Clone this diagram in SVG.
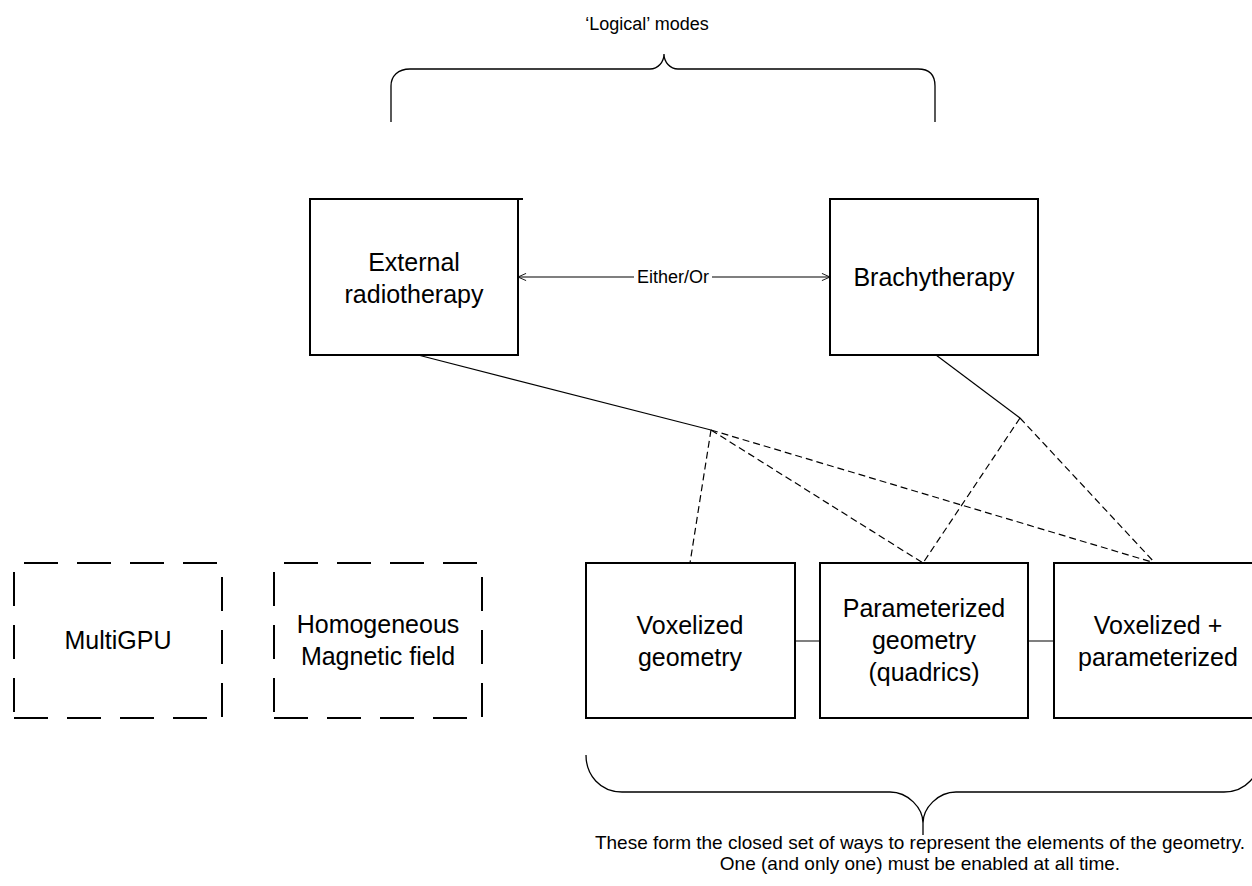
<svg xmlns="http://www.w3.org/2000/svg" width="1252" height="886" viewBox="0 0 1252 886">
<defs>
<style>
.box{fill:#fff;stroke:#000;stroke-width:2}
.dbox{fill:none;stroke:#000;stroke-width:2;stroke-dasharray:34 19}
.t{font-family:"Liberation Sans",Arial,sans-serif;font-size:25px;fill:#000;text-anchor:middle}
.s{font-family:"Liberation Sans",Arial,sans-serif;font-size:18px;fill:#000;text-anchor:middle}
.b{font-family:"Liberation Sans",Arial,sans-serif;font-size:19px;fill:#000;text-anchor:middle}
.c{fill:none;stroke:#000;stroke-width:1.2}
.d{fill:none;stroke:#000;stroke-width:1.2;stroke-dasharray:7 4}
.brace{fill:none;stroke:#000;stroke-width:1.3}
</style>
<marker id="open" viewBox="0 0 10 10" refX="10" refY="5" markerWidth="9" markerHeight="9" markerUnits="userSpaceOnUse" orient="auto-start-reverse">
<path d="M1,1 L10,5 L1,9" fill="none" stroke="#000" stroke-width="1"/>
</marker>
</defs>
<rect width="1252" height="886" fill="#fff"/>

<g id="logical-brace">
<path class="brace" d="M391,122 L391,86 C391,76 398,69 410,69 L650,69 C658,69 664,62 664,54 C664,62 670,69 678,69 L918,69 C930,69 935,76 935,86 L935,122"/>
<text class="s" x="647" y="30">‘Logical’ modes</text>
</g>

<g id="connectors">
<line class="c" x1="518" y1="277" x2="830" y2="277" stroke="#444" marker-start="url(#open)" marker-end="url(#open)"/>
<rect x="634" y="265" width="78" height="22" fill="#fff"/>
<text class="s" x="673" y="283">Either/Or</text>
<line class="c" x1="418" y1="355" x2="711" y2="430"/>
<line class="c" x1="936" y1="355" x2="1020" y2="418"/>
<line class="d" x1="711" y1="430" x2="690" y2="563"/>
<line class="d" x1="711" y1="430" x2="923" y2="563"/>
<line class="d" x1="711" y1="430" x2="1155" y2="563"/>
<line class="d" x1="1020" y1="418" x2="923" y2="563"/>
<line class="d" x1="1020" y1="418" x2="1155" y2="563"/>
<line x1="795" y1="641" x2="820" y2="641" stroke="#555" stroke-width="1.5"/>
<line x1="1028" y1="641" x2="1054" y2="641" stroke="#555" stroke-width="1.5"/>
</g>

<g id="external">
<rect class="box" x="310" y="199" width="208" height="156"/>
<line x1="517" y1="199" x2="523" y2="199" stroke="#000" stroke-width="2"/>
<text class="t" x="414" y="271">External</text>
<text class="t" x="414" y="303">radiotherapy</text>
</g>

<g id="brachy">
<rect class="box" x="830" y="199" width="208" height="156"/>
<text class="t" x="934" y="286">Brachytherapy</text>
</g>

<g id="multigpu">
<line class="dbox" x1="14" y1="563" x2="222" y2="563" stroke-dashoffset="43"/>
<line class="dbox" x1="14" y1="718" x2="222" y2="718" stroke-dashoffset="0"/>
<line class="dbox" x1="14" y1="563" x2="14" y2="718" stroke-dashoffset="44"/>
<line class="dbox" x1="222" y1="563" x2="222" y2="718" stroke-dashoffset="39"/>
<text class="t" x="118" y="649">MultiGPU</text>
</g>

<g id="magnetic">
<line class="dbox" x1="274" y1="563" x2="482" y2="563" stroke-dashoffset="43"/>
<line class="dbox" x1="274" y1="718" x2="482" y2="718" stroke-dashoffset="0"/>
<line class="dbox" x1="274" y1="563" x2="274" y2="718" stroke-dashoffset="44"/>
<line class="dbox" x1="482" y1="563" x2="482" y2="718" stroke-dashoffset="39"/>
<text class="t" x="378" y="633">Homogeneous</text>
<text class="t" x="378" y="665">Magnetic field</text>
</g>

<g id="voxelized">
<rect class="box" x="586" y="563" width="209" height="155"/>
<text class="t" x="690" y="634">Voxelized</text>
<text class="t" x="690" y="666">geometry</text>
</g>

<g id="parameterized">
<rect class="box" x="820" y="563" width="208" height="155"/>
<text class="t" x="924" y="617">Parameterized</text>
<text class="t" x="924" y="649">geometry</text>
<text class="t" x="924" y="681">(quadrics)</text>
</g>

<g id="voxpar">
<rect class="box" x="1054" y="563" width="208" height="155"/>
<text class="t" x="1158" y="634">Voxelized +</text>
<text class="t" x="1158" y="666">parameterized</text>
</g>

<g id="geometry-brace">
<path class="brace" d="M586,755 C586,775 600,792 622,792 L890,792 C908,792 923,808 923,823 L923,835 M923,823 C923,808 938,792 956,792 L1224,792 C1246,792 1260,775 1260,755"/>
<text class="b" x="920" y="849">These form the closed set of ways to represent the elements of the geometry.</text>
<text class="b" x="920" y="870">One (and only one) must be enabled at all time.</text>
</g>
</svg>
